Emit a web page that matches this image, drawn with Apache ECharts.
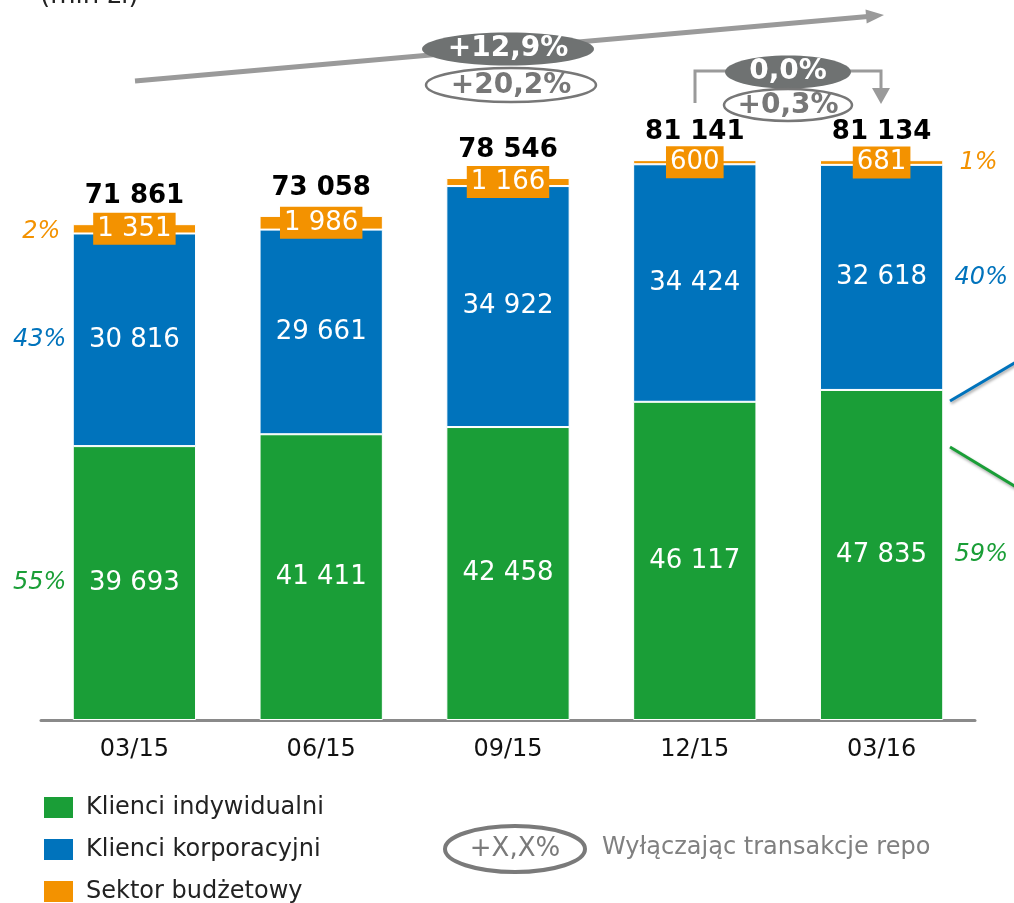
<!DOCTYPE html>
<html>
<head>
<meta charset="utf-8">
<script src="https://cdn.jsdelivr.net/npm/echarts@6/dist/echarts.min.js"></script>
<style>
html,body{margin:0;padding:0;background:#fff;}
#chart{width:1014px;height:903px;}
</style>
</head>
<body>
<div id="chart"></div>
<script>
const categories = ['03/15', '06/15', '09/15', '12/15', '03/16'];
const individual = [39693, 41411, 42458, 46117, 47835];
const corporate = [30816, 29661, 34922, 34424, 32618];
const budget = [1351, 1986, 1166, 600, 681];
const totals = [71861, 73058, 78546, 81141, 81134];
const sharesFirst = [55, 43, 2];
const sharesLast = [59, 40, 1];
const seriesNames = ['Klienci indywidualni', 'Klienci korporacyjni', 'Sektor budżetowy'];
const colors = ['#1a9e37', '#0073bc', '#f39200'];
const growthAll = '+12,9%';
const growthAllExRepo = '+20,2%';
const growthQ = '0,0%';
const growthQExRepo = '+0,3%';

const FONT = '"DejaVu Sans", Verdana, sans-serif';
const fmt = v => String(v).replace(/\B(?=(\d{3})+(?!\d))/g, ' ');

const chart = echarts.init(document.getElementById('chart'), null, {renderer: 'canvas'});

const valueLabel = {
  show: true, position: 'inside', color: '#fff', fontSize: 26, fontFamily: FONT,
  formatter: p => fmt(p.value)
};

const legendTops = [795, 837, 879];
const legends = seriesNames.map((n, i) => ({
  data: [n], orient: 'horizontal', left: 42, top: legendTops[i], padding: 0,
  itemWidth: 31, itemHeight: 23, icon: 'rect',
  textStyle: {fontSize: 24, lineHeight: 23, fontFamily: FONT, color: '#222', padding: [0, 0, 0, 7]}
}));

const option = {
  animation: false,
  backgroundColor: '#fff',
  grid: {left: 41, right: 39, top: 30, bottom: 183, containLabel: false},
  legend: legends,
  xAxis: {
    type: 'category', data: categories,
    axisLine: {lineStyle: {color: '#8a8a8a', width: 3}},
    axisTick: {show: false},
    axisLabel: {fontSize: 24, fontFamily: FONT, color: '#111', margin: 18}
  },
  yAxis: {type: 'value', min: 0, max: 100000, show: false, splitLine: {show: false}},
  series: [
    {name: seriesNames[0], type: 'bar', stack: 'a', data: individual, barCategoryGap: '34%',
     itemStyle: {color: colors[0], borderColor: '#fff', borderWidth: 1}, label: valueLabel},
    {name: seriesNames[1], type: 'bar', stack: 'a', data: corporate,
     itemStyle: {color: colors[1], borderColor: '#fff', borderWidth: 1}, label: valueLabel},
    {name: seriesNames[2], type: 'bar', stack: 'a', data: budget,
     itemStyle: {color: colors[2], borderColor: '#fff', borderWidth: 1},
     label: Object.assign({}, valueLabel, {backgroundColor: colors[2], padding: [4, 4, 2, 4]})},
    {name: 'total', type: 'bar', stack: 'a', data: totals.map(() => 0),
     itemStyle: {color: 'transparent'},
     label: {show: true, position: 'top', distance: 15, color: '#000', fontSize: 26,
             fontWeight: 'bold', fontFamily: FONT, formatter: p => fmt(totals[p.dataIndex])}}
  ]
};
chart.setOption(option);

// side share labels positioned through the chart's own scales
function mid(i, k) {
  const segs = [individual[i], corporate[i], budget[i]];
  let base = 0;
  for (let j = 0; j < k; j++) base += segs[j];
  return base + segs[k] / 2;
}
const leftOff = [68, 68, 74];
const rightOff = [73, 73, 78];
const graphics = [];
[0, 1, 2].forEach(k => {
  const pL = chart.convertToPixel({gridIndex: 0}, [0, mid(0, k)]);
  graphics.push({type: 'text', x: pL[0] - leftOff[k], y: pL[1] + (k === 2 ? 3 : 0), style: {
    text: sharesFirst[k] + '%', fill: colors[k], textAlign: 'right', textVerticalAlign: 'middle',
    font: 'italic 24px ' + FONT}});
  const pR = chart.convertToPixel({gridIndex: 0}, [4, mid(4, k)]);
  graphics.push({type: 'text', x: pR[0] + rightOff[k], y: pR[1], style: {
    text: sharesLast[k] + '%', fill: colors[k], textAlign: 'left', textVerticalAlign: 'middle',
    font: 'italic 24px ' + FONT}});
});

// title (cut off at top)
graphics.push({type: 'text', x: 40, y: 9, style: {text: '(mln zł)', fill: '#222',
  textVerticalAlign: 'bottom', font: '26px ' + FONT}});

// long growth arrow
graphics.push({type: 'line', shape: {x1: 135, y1: 81, x2: 868, y2: 16.5},
  style: {stroke: '#9a9a9a', lineWidth: 5}});
graphics.push({type: 'polygon', shape: {points: [[884, 15], [866.7, 23.6], [865.5, 9.6]]},
  style: {fill: '#9a9a9a'}});
graphics.push({type: 'ellipse', shape: {cx: 508, cy: 49, rx: 86, ry: 16.5}, style: {fill: '#6f7272'}});
graphics.push({type: 'text', x: 508, y: 49, style: {text: growthAll, fill: '#fff', textAlign: 'center',
  textVerticalAlign: 'middle', font: 'bold 28px ' + FONT}});
graphics.push({type: 'ellipse', shape: {cx: 511, cy: 85, rx: 85, ry: 17},
  style: {fill: '#fff', stroke: '#777', lineWidth: 2.5}});
graphics.push({type: 'text', x: 511, y: 86, style: {text: growthAllExRepo, fill: '#777', textAlign: 'center',
  textVerticalAlign: 'middle', font: 'bold 28px ' + FONT}});

// quarter bracket
graphics.push({type: 'polyline', shape: {points: [[695, 103], [695, 71], [730, 71]]},
  style: {stroke: '#9a9a9a', lineWidth: 3, fill: null}});
graphics.push({type: 'polyline', shape: {points: [[848, 71], [881, 71], [881, 90]]},
  style: {stroke: '#9a9a9a', lineWidth: 3, fill: null}});
graphics.push({type: 'polygon', shape: {points: [[881, 104], [872, 88], [890, 88]]},
  style: {fill: '#9a9a9a'}});
graphics.push({type: 'ellipse', shape: {cx: 788, cy: 72, rx: 63, ry: 16.5}, style: {fill: '#6f7272'}});
graphics.push({type: 'text', x: 788, y: 72, style: {text: growthQ, fill: '#fff', textAlign: 'center',
  textVerticalAlign: 'middle', font: 'bold 28px ' + FONT}});
graphics.push({type: 'ellipse', shape: {cx: 788, cy: 105, rx: 64, ry: 16},
  style: {fill: '#fff', stroke: '#777', lineWidth: 2.5}});
graphics.push({type: 'text', x: 788, y: 106, style: {text: growthQExRepo, fill: '#777', textAlign: 'center',
  textVerticalAlign: 'middle', font: 'bold 28px ' + FONT}});

// pointer lines on the right
graphics.push({type: 'line', shape: {x1: 950, y1: 401, x2: 1016, y2: 362},
  style: {stroke: colors[1], lineWidth: 3, shadowBlur: 3, shadowColor: 'rgba(0,0,0,0.35)', shadowOffsetX: 1, shadowOffsetY: 2}});
graphics.push({type: 'line', shape: {x1: 950, y1: 447, x2: 1016, y2: 487},
  style: {stroke: colors[0], lineWidth: 3, shadowBlur: 3, shadowColor: 'rgba(0,0,0,0.35)', shadowOffsetX: 1, shadowOffsetY: 2}});

// repo note
graphics.push({type: 'ellipse', shape: {cx: 515, cy: 849, rx: 70, ry: 23},
  style: {fill: '#fff', stroke: '#7a7a7a', lineWidth: 4}});
graphics.push({type: 'text', x: 515, y: 849, style: {text: '+X,X%', fill: '#7a7a7a', textAlign: 'center',
  textVerticalAlign: 'middle', font: '26px ' + FONT}});
graphics.push({type: 'text', x: 602, y: 848, style: {text: 'Wyłączając transakcje repo', fill: '#808080',
  textAlign: 'left', textVerticalAlign: 'middle', font: '24px ' + FONT}});

chart.setOption({graphic: graphics});
</script>
</body>
</html>
